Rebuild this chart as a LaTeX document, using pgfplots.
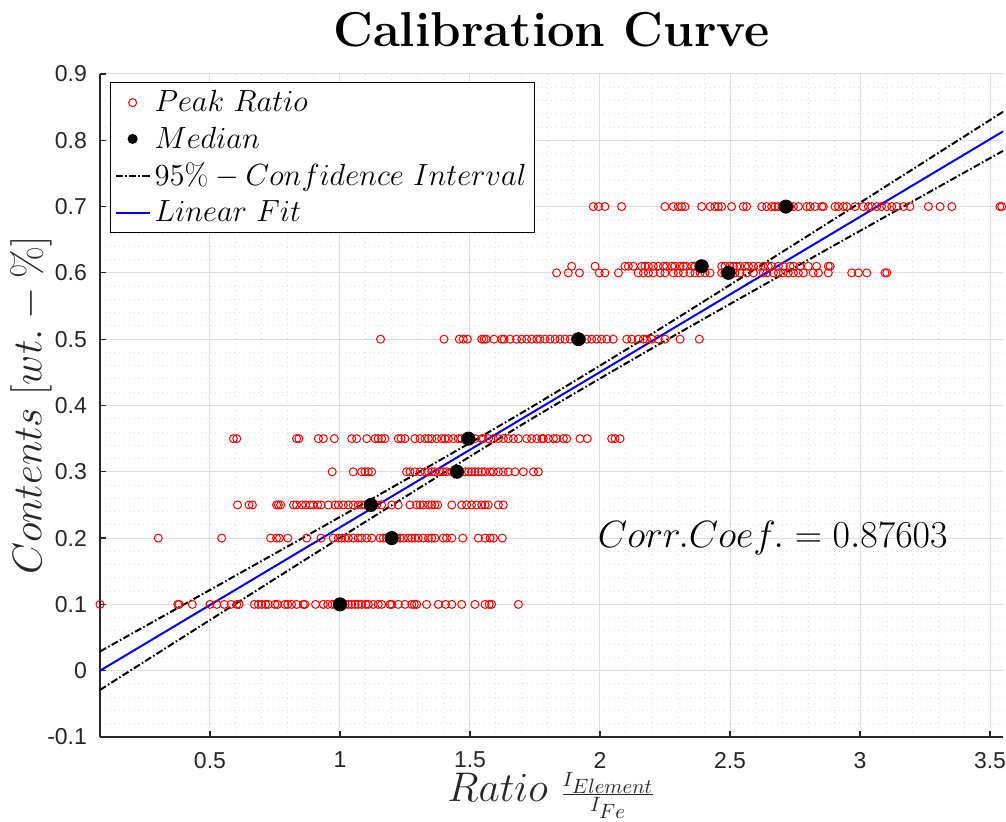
\RequirePackage{fix-cm}
\documentclass[border=0pt]{standalone}
\usepackage{fontspec}
\usepackage{pgfplots}
\pgfplotsset{compat=1.18}
\newfontfamily\arialf{Liberation Sans}
\definecolor{axgray}{RGB}{38,38,38}
\definecolor{gridgray}{RGB}{222,222,222}

\begin{document}
\begin{tikzpicture}
\begin{axis}[
  name=ax,
  scale only axis,
  width=451.5pt, height=331.5pt,
  xmin=0.077, xmax=3.55,
  ymin=-0.1, ymax=0.9,
  clip=false,
  xtick={0.5,1,1.5,2,2.5,3,3.5},
  ytick={-0.1,0,0.1,0.2,0.3,0.4,0.5,0.6,0.7,0.8,0.9},
  minor x tick num=4, minor y tick num=4,
  grid=both,
  major grid style={gridgray, line width=0.5pt},
  minor grid style={gridgray, dotted, line width=0.5pt},
  axis x line*=bottom, axis y line*=left,
  axis line style={axgray, line width=0.6pt},
  tick align=inside, major tick length=3pt, minor tick length=0pt,
  tick style={axgray, line width=0.6pt},
  ticklabel style={font=\arialf\fontsize{11.5}{13}\selectfont, text=axgray},
  /pgf/number format/assume math mode=true,
  xticklabel style={yshift=-4pt},
  yticklabel style={xshift=-3pt},
  xlabel={$Ratio\ {\scriptstyle\frac{I_{Element}}{I_{Fe}}}$},
  ylabel={$Contents\ [wt.-\%]$},
  label style={font=\fontsize{20.7}{24}\selectfont, text=axgray},
  xlabel style={yshift=5pt},
  ylabel style={yshift=-9pt},
  legend style={at={(0.011,0.988)}, anchor=north west, draw=black,
    line width=0.6pt, fill=white, font=\fontsize{15.3}{18}\selectfont,
    row sep=2pt, inner sep=2pt},
  legend cell align=left,
]
% peak ratios, one line per content level
\addplot[only marks, mark=o, mark size=2pt, red, mark options={line width=0.5pt}] coordinates {
(0.077,0.1) (0.376,0.1) (0.381,0.1) (0.432,0.1) (0.500,0.1) (0.526,0.1) (0.555,0.1) (0.581,0.1) (0.603,0.1) (0.612,0.1) (0.671,0.1) (0.686,0.1) (0.699,0.1) (0.714,0.1) (0.724,0.1) (0.750,0.1) (0.760,0.1) (0.788,0.1) (0.799,0.1) (0.814,0.1) (0.833,0.1) (0.859,0.1) (0.865,0.1) (0.906,0.1) (0.936,0.1) (0.953,0.1) (0.970,0.1) (0.981,0.1) (0.992,0.1) (1.008,0.1) (1.020,0.1) (1.032,0.1) (1.045,0.1) (1.058,0.1) (1.070,0.1) (1.083,0.1) (1.099,0.1) (1.109,0.1) (1.128,0.1) (1.147,0.1) (1.160,0.1) (1.192,0.1) (1.199,0.1) (1.224,0.1) (1.250,0.1) (1.276,0.1) (1.286,0.1) (1.295,0.1) (1.333,0.1) (1.378,0.1) (1.406,0.1) (1.430,0.1) (1.468,0.1) (1.519,0.1) (1.558,0.1) (1.574,0.1) (1.583,0.1) (1.686,0.1)
(0.301,0.2) (0.545,0.2) (0.733,0.2) (0.756,0.2) (0.767,0.2) (0.799,0.2) (0.872,0.2) (0.927,0.2) (0.974,0.2) (0.994,0.2) (1.006,0.2) (1.019,0.2) (1.032,0.2) (1.051,0.2) (1.070,0.2) (1.083,0.2) (1.103,0.2) (1.122,0.2) (1.154,0.2) (1.167,0.2) (1.179,0.2) (1.192,0.2) (1.206,0.2) (1.218,0.2) (1.231,0.2) (1.244,0.2) (1.263,0.2) (1.276,0.2) (1.288,0.2) (1.301,0.2) (1.320,0.2) (1.340,0.2) (1.353,0.2) (1.365,0.2) (1.397,0.2) (1.410,0.2) (1.430,0.2) (1.472,0.2) (1.532,0.2) (1.558,0.2) (1.577,0.2) (1.590,0.2) (1.624,0.2)
(0.606,0.25) (0.650,0.25) (0.663,0.25) (0.756,0.25) (0.763,0.25) (0.772,0.25) (0.821,0.25) (0.833,0.25) (0.853,0.25) (0.868,0.25) (0.885,0.25) (0.897,0.25) (0.914,0.25) (0.927,0.25) (0.955,0.25) (0.981,0.25) (0.994,0.25) (1.013,0.25) (1.032,0.25) (1.051,0.25) (1.070,0.25) (1.083,0.25) (1.096,0.25) (1.110,0.25) (1.128,0.25) (1.141,0.25) (1.160,0.25) (1.199,0.25) (1.224,0.25) (1.269,0.25) (1.295,0.25) (1.308,0.25) (1.320,0.25) (1.340,0.25) (1.353,0.25) (1.365,0.25) (1.376,0.25) (1.430,0.25) (1.468,0.25) (1.487,0.25) (1.506,0.25) (1.526,0.25) (1.545,0.25) (1.558,0.25) (1.570,0.25) (1.609,0.25) (1.628,0.25)
(0.970,0.3) (1.051,0.3) (1.083,0.3) (1.096,0.3) (1.109,0.3) (1.122,0.3) (1.256,0.3) (1.269,0.3) (1.288,0.3) (1.308,0.3) (1.327,0.3) (1.340,0.3) (1.353,0.3) (1.365,0.3) (1.385,0.3) (1.397,0.3) (1.410,0.3) (1.430,0.3) (1.445,0.3) (1.458,0.3) (1.481,0.3) (1.494,0.3) (1.506,0.3) (1.519,0.3) (1.532,0.3) (1.545,0.3) (1.558,0.3) (1.577,0.3) (1.590,0.3) (1.609,0.3) (1.628,0.3) (1.647,0.3) (1.673,0.3) (1.705,0.3) (1.744,0.3) (1.763,0.3)
(0.590,0.35) (0.603,0.35) (0.833,0.35) (0.842,0.35) (0.917,0.35) (0.936,0.35) (0.978,0.35) (1.045,0.35) (1.064,0.35) (1.103,0.35) (1.135,0.35) (1.147,0.35) (1.160,0.35) (1.173,0.35) (1.224,0.35) (1.235,0.35) (1.250,0.35) (1.288,0.35) (1.308,0.35) (1.327,0.35) (1.340,0.35) (1.353,0.35) (1.372,0.35) (1.391,0.35) (1.404,0.35) (1.417,0.35) (1.436,0.35) (1.455,0.35) (1.468,0.35) (1.485,0.35) (1.503,0.35) (1.519,0.35) (1.545,0.35) (1.551,0.35) (1.571,0.35) (1.590,0.35) (1.609,0.35) (1.628,0.35) (1.647,0.35) (1.667,0.35) (1.686,0.35) (1.718,0.35) (1.737,0.35) (1.757,0.35) (1.776,0.35) (1.782,0.35) (1.801,0.35) (1.821,0.35) (1.833,0.35) (1.859,0.35) (1.872,0.35) (1.923,0.35) (1.951,0.35) (2.045,0.35) (2.058,0.35) (2.077,0.35)
(1.156,0.5) (1.400,0.5) (1.459,0.5) (1.474,0.5) (1.490,0.5) (1.545,0.5) (1.554,0.5) (1.562,0.5) (1.592,0.5) (1.622,0.5) (1.631,0.5) (1.654,0.5) (1.679,0.5) (1.699,0.5) (1.718,0.5) (1.737,0.5) (1.757,0.5) (1.769,0.5) (1.788,0.5) (1.808,0.5) (1.827,0.5) (1.846,0.5) (1.865,0.5) (1.885,0.5) (1.905,0.5) (1.930,0.5) (1.949,0.5) (1.968,0.5) (1.987,0.5) (2.006,0.5) (2.026,0.5) (2.051,0.5) (2.103,0.5) (2.122,0.5) (2.147,0.5) (2.167,0.5) (2.179,0.5) (2.199,0.5) (2.224,0.5) (2.250,0.5) (2.308,0.5) (2.382,0.5)
(1.833,0.6) (1.878,0.6) (1.921,0.6) (1.997,0.6) (2.019,0.6) (2.071,0.6) (2.147,0.6) (2.167,0.6) (2.186,0.6) (2.205,0.6) (2.231,0.6) (2.250,0.6) (2.282,0.6) (2.301,0.6) (2.321,0.6) (2.346,0.6) (2.365,0.6) (2.385,0.6) (2.404,0.6) (2.423,0.6) (2.468,0.6) (2.480,0.6) (2.506,0.6) (2.519,0.6) (2.538,0.6) (2.564,0.6) (2.590,0.6) (2.628,0.6) (2.641,0.6) (2.667,0.6) (2.686,0.6) (2.705,0.6) (2.724,0.6) (2.744,0.6) (2.763,0.6) (2.782,0.6) (2.820,0.6) (2.840,0.6) (2.878,0.6) (2.968,0.6) (2.994,0.6) (3.026,0.6) (3.096,0.6) (3.103,0.6)
(1.891,0.61) (1.981,0.61) (2.096,0.61) (2.109,0.61) (2.128,0.61) (2.160,0.61) (2.173,0.61) (2.186,0.61) (2.205,0.61) (2.224,0.61) (2.244,0.61) (2.256,0.61) (2.276,0.61) (2.288,0.61) (2.308,0.61) (2.321,0.61) (2.333,0.61) (2.353,0.61) (2.365,0.61) (2.380,0.61) (2.400,0.61) (2.468,0.61) (2.481,0.61) (2.500,0.61) (2.513,0.61) (2.526,0.61) (2.538,0.61) (2.558,0.61) (2.571,0.61) (2.590,0.61) (2.609,0.61) (2.628,0.61) (2.647,0.61) (2.660,0.61) (2.686,0.61) (2.705,0.61) (2.731,0.61) (2.744,0.61) (2.769,0.61) (2.801,0.61) (2.833,0.61) (2.878,0.61) (2.885,0.61)
(1.974,0.7) (1.994,0.7) (2.019,0.7) (2.083,0.7) (2.250,0.7) (2.282,0.7) (2.301,0.7) (2.314,0.7) (2.327,0.7) (2.391,0.7) (2.423,0.7) (2.442,0.7) (2.455,0.7) (2.468,0.7) (2.506,0.7) (2.551,0.7) (2.564,0.7) (2.622,0.7) (2.641,0.7) (2.660,0.7) (2.673,0.7) (2.686,0.7) (2.700,0.7) (2.730,0.7) (2.744,0.7) (2.763,0.7) (2.795,0.7) (2.808,0.7) (2.827,0.7) (2.853,0.7) (2.859,0.7) (2.904,0.7) (2.917,0.7) (2.936,0.7) (2.949,0.7) (2.981,0.7) (3.013,0.7) (3.032,0.7) (3.045,0.7) (3.064,0.7) (3.083,0.7) (3.103,0.7) (3.122,0.7) (3.141,0.7) (3.167,0.7) (3.192,0.7) (3.263,0.7) (3.308,0.7) (3.353,0.7) (3.538,0.7) (3.545,0.7)
};
\addlegendentry{$Peak\ Ratio$}
% medians
\addplot[only marks, mark=*, mark size=3.3pt, black, legend image post style={mark size=2.2pt}] coordinates {
(1.000,0.1) (1.199,0.2) (1.119,0.25) (1.450,0.3) (1.494,0.35) (1.917,0.5) (2.494,0.6) (2.391,0.61) (2.715,0.7)
};
\addlegendentry{$Median$}
% confidence band
\addplot[black, line width=1pt, smooth, dash pattern=on 3.5pt off 1.2pt on 0.8pt off 1.2pt] coordinates {
(0.077,0.029) (0.5,0.1218) (1.0,0.2319) (1.5,0.3435) (1.8,0.4126) (2.2,0.5082) (2.6,0.6066) (3.0,0.7058) (3.55,0.8430)
};
\addlegendentry{$95\%-Confidence\ Interval$}
\addplot[black, line width=1pt, smooth, dash pattern=on 3.5pt off 1.2pt on 0.8pt off 1.2pt, forget plot] coordinates {
(0.077,-0.029) (0.5,0.0764) (1.0,0.2005) (1.5,0.3231) (1.8,0.3946) (2.2,0.4862) (2.6,0.5752) (3.0,0.6634) (3.55,0.7840)
};
% linear fit
\addplot[blue, line width=1pt] coordinates {(0.077,0.0) (3.55,0.8134)};
\addlegendentry{$Linear\ Fit$}
\node[anchor=base, font=\bfseries\fontsize{24.5}{29}\selectfont] at (rel axis cs:0.5,1) [yshift=13.5pt] {Calibration Curve};
\node[anchor=west, font=\fontsize{19}{23}\selectfont] at (axis cs:1.965,0.2) {$Corr.Coef.=0.87603$};
\end{axis}
\pgfresetboundingbox
\path[use as bounding box] ([xshift=-50pt,yshift=-42.5pt]ax.south west) rectangle ([xshift=1.5pt,yshift=37pt]ax.north east);
\end{tikzpicture}
\end{document}
